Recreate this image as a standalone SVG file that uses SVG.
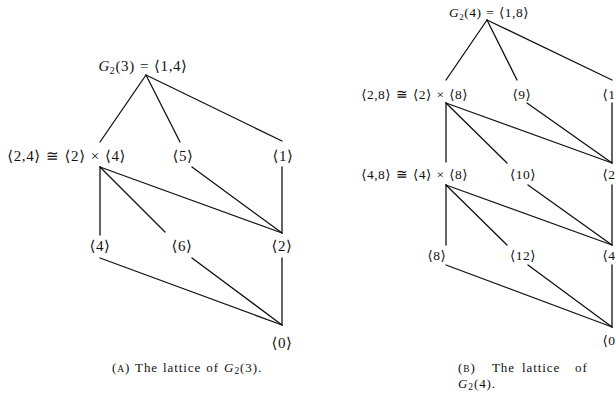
<svg xmlns="http://www.w3.org/2000/svg" width="616" height="399" viewBox="0 0 616 399">
<style>
text{font-family:"Liberation Serif","DejaVu Serif",serif;font-size:15px;fill:#111;letter-spacing:0.6px}
.r{font-size:13.5px;letter-spacing:0.5px}
.c{text-anchor:middle}
.e{text-anchor:end}
.m{word-spacing:0.8px}
.cap{font-size:13px;letter-spacing:0.9px;word-spacing:1px}
.sc{font-size:9.5px}
.sub{font-size:10px}
.rsub{font-size:9px}
.it{font-style:italic}
#edges line{stroke:#111;stroke-width:1.3;stroke-linecap:round}
</style>
<rect width="616" height="399" fill="#fff"/>
<g id="edges">
<line x1="146" y1="75" x2="100" y2="142"/>
<line x1="146" y1="75" x2="180" y2="142"/>
<line x1="146" y1="75" x2="282" y2="141"/>
<line x1="100" y1="167" x2="100" y2="235"/>
<line x1="100" y1="167" x2="165" y2="232"/>
<line x1="100" y1="167" x2="282" y2="233"/>
<line x1="192" y1="167" x2="282" y2="233"/>
<line x1="282" y1="167" x2="282" y2="233"/>
<line x1="100" y1="258" x2="282" y2="325"/>
<line x1="192" y1="258" x2="282" y2="325"/>
<line x1="282" y1="258" x2="282" y2="325"/>
<line x1="487" y1="20" x2="446" y2="80"/>
<line x1="487" y1="20" x2="517" y2="80"/>
<line x1="487" y1="20" x2="612" y2="80"/>
<line x1="446" y1="103" x2="446" y2="162"/>
<line x1="446" y1="103" x2="507" y2="163"/>
<line x1="446" y1="103" x2="612" y2="163"/>
<line x1="527" y1="103" x2="612" y2="163"/>
<line x1="612" y1="103" x2="612" y2="163"/>
<line x1="446" y1="185" x2="446" y2="245"/>
<line x1="446" y1="185" x2="507" y2="245"/>
<line x1="446" y1="185" x2="612" y2="245"/>
<line x1="528" y1="185" x2="612" y2="245"/>
<line x1="612" y1="185" x2="612" y2="245"/>
<line x1="446" y1="265" x2="612" y2="327"/>
<line x1="528" y1="265" x2="612" y2="327"/>
<line x1="612" y1="265" x2="612" y2="327"/>
</g>
<g id="L-top"><text class="c m" x="143" y="71"><tspan class="it">G</tspan><tspan class="sub" dy="2.5">2</tspan><tspan dy="-2.5">(3) = ⟨1,4⟩</tspan></text></g>
<g id="L-24"><text class="e m" x="126" y="161">⟨2,4⟩ ≅ ⟨2⟩ × ⟨4⟩</text></g>
<g id="L-5"><text class="c" x="183" y="161">⟨5⟩</text></g>
<g id="L-1"><text class="c" x="283" y="161">⟨1⟩</text></g>
<g id="L-4"><text class="c" x="100" y="251">⟨4⟩</text></g>
<g id="L-6"><text class="c" x="182" y="251">⟨6⟩</text></g>
<g id="L-2"><text class="c" x="282" y="251">⟨2⟩</text></g>
<g id="L-0"><text class="c" x="282" y="348">⟨0⟩</text></g>
<text class="cap c" x="187" y="372">(<tspan class="sc">A</tspan>) The lattice of <tspan class="it">G</tspan><tspan class="sc" dy="2">2</tspan><tspan dy="-2">(3).</tspan></text>
<g id="R-top"><text class="r c m" x="489" y="17"><tspan class="it">G</tspan><tspan class="rsub" dy="2.5">2</tspan><tspan dy="-2.5">(4) = ⟨1,8⟩</tspan></text></g>
<g id="R-28"><text class="r e m" x="468" y="99">⟨2,8⟩ ≅ ⟨2⟩ × ⟨8⟩</text></g>
<g id="R-9"><text class="r c" x="522" y="99">⟨9⟩</text></g>
<g id="R-1"><text class="r c" x="612" y="99">⟨1⟩</text></g>
<g id="R-48"><text class="r e m" x="468" y="179">⟨4,8⟩ ≅ ⟨4⟩ × ⟨8⟩</text></g>
<g id="R-10"><text class="r c" x="523" y="179">⟨10⟩</text></g>
<g id="R-2"><text class="r c" x="612" y="179">⟨2⟩</text></g>
<g id="R-8"><text class="r c" x="437" y="260">⟨8⟩</text></g>
<g id="R-12"><text class="r c" x="523" y="260">⟨12⟩</text></g>
<g id="R-4"><text class="r c" x="612" y="260">⟨4⟩</text></g>
<g id="R-0"><text class="r c" x="612" y="345">⟨0⟩</text></g>
<text class="cap"><tspan x="458" y="372">(<tspan class="sc">B</tspan>)</tspan><tspan x="492" y="372">The</tspan><tspan x="522" y="372">lattice</tspan><tspan x="575" y="372">of</tspan></text>
<text class="cap" x="458" y="388"><tspan class="it">G</tspan><tspan class="sc" dy="2">2</tspan><tspan dy="-2">(4).</tspan></text>
</svg>
